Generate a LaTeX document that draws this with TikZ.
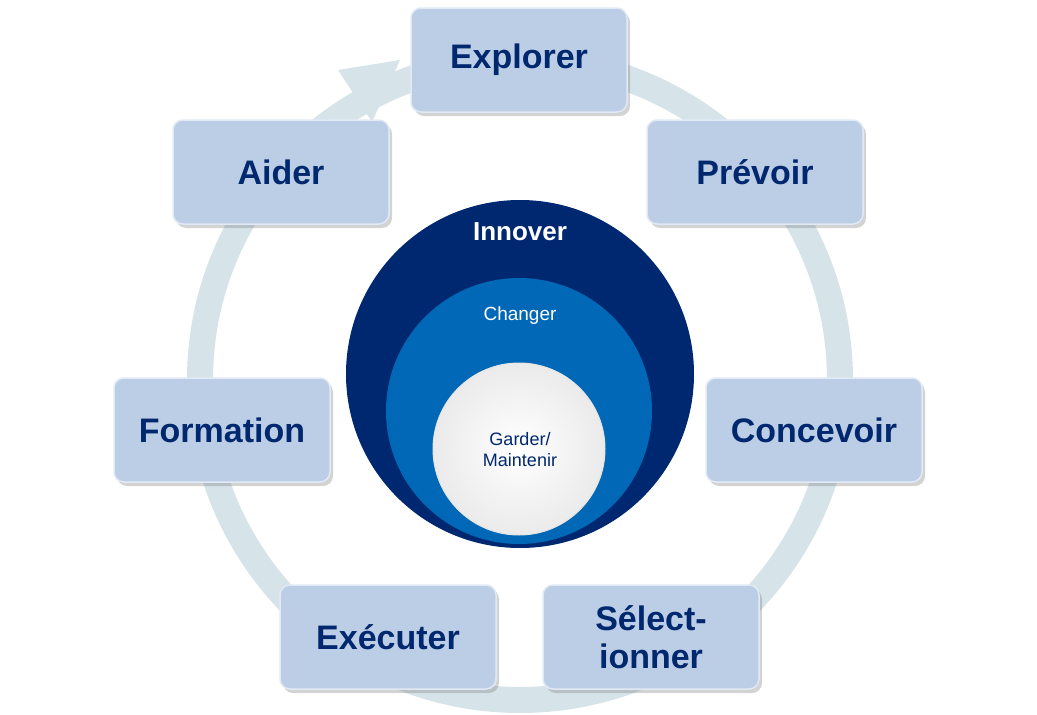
\documentclass[tikz,border=0pt]{standalone}
\usepackage{fontspec}
\setmainfont{Liberation Sans}
\usetikzlibrary{shadows}
\definecolor{ringc}{RGB}{214,228,234}
\definecolor{boxc}{RGB}{188,205,230}
\definecolor{boxline}{RGB}{225,233,245}
\definecolor{navy}{RGB}{0,40,112}
\definecolor{midblue}{RGB}{0,104,182}
\definecolor{txtc}{RGB}{0,40,110}
\tikzset{
	stepbox/.style={draw=boxline, line width=1.5pt, fill=boxc, rounded corners=10pt,
		minimum width=216pt, minimum height=104pt, align=center,
		font=\fontsize{34}{34}\selectfont\bfseries, text=txtc,
		drop shadow={shadow xshift=3pt, shadow yshift=-4pt, opacity=0.35}}
}
\begin{document}
\begin{tikzpicture}[x=1pt,y=-1pt]
\useasboundingbox (0,0) rectangle (1037,715);

% ring with arrow head
\coordinate (c) at (520,380);
\draw[ringc, line width=26pt] (c) circle (320);
\fill[ringc] (338,70) -- (400,60) -- (372,122) -- cycle;

% inner circles
\fill[navy] (520,374) circle (174);
\fill[midblue] (519,411) circle (133);
\shade[inner color=white, outer color=black!8] (519,449) circle (86);
\draw[black!10, line width=1pt] (519,449) circle (86);
\node[text=white, font=\fontsize{26}{26}\selectfont\bfseries] (innov) at (520,232) {Innover};
\node[text=white, font=\fontsize{19}{19}\selectfont] (chg) at (520,316) {Changer};
\node[text=txtc, align=center, font=\fontsize{18}{21}\selectfont] (gard) at (520,450) {Garder/\\Maintenir};

% steps
\node[stepbox] (expl) at (519,60) {Explorer};
\node[stepbox] (prev) at (755,172) {Prévoir};
\node[stepbox] (conc) at (814,430) {Concevoir};
\node[stepbox, font=\fontsize{34}{38}\selectfont\bfseries] (sel) at (651,637) {Sélect-\\ionner};
\node[stepbox] (exec) at (388,637) {Exécuter};
\node[stepbox] (form) at (222,430) {Formation};
\node[stepbox] (aid) at (281,172) {Aider};
\end{tikzpicture}
\end{document}
